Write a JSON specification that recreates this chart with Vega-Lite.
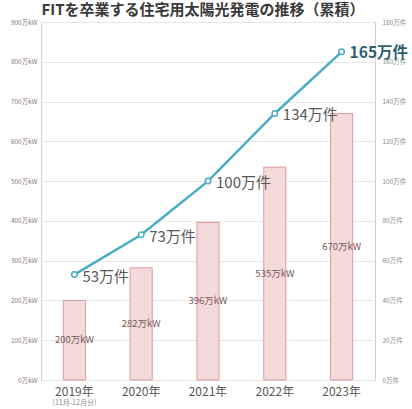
{
  "$schema": "https://vega.github.io/schema/vega-lite/v6.json",
  "width": 334,
  "height": 358,
  "autosize": {"type": "none"},
  "padding": {"left": 41, "top": 22, "right": 37, "bottom": 29},
  "background": "white",
  "title": {
    "text": "FITを卒業する住宅用太陽光発電の推移（累積）",
    "font": "Noto Sans CJK JP",
    "fontSize": 15,
    "fontWeight": "bold",
    "color": "#3a3a3a",
    "anchor": "middle",
    "dx": -5,
    "offset": 1
  },
  "config": {
    "font": "Noto Sans CJK JP",
    "view": {"stroke": "#d0d0d0", "strokeWidth": 1}
  },
  "data": {
    "values": [
      {"year": "2019年", "kw": 200, "count": 53, "kwLabel": "200万kW", "countLabel": "53万件"},
      {"year": "2020年", "kw": 282, "count": 73, "kwLabel": "282万kW", "countLabel": "73万件"},
      {"year": "2021年", "kw": 396, "count": 100, "kwLabel": "396万kW", "countLabel": "100万件"},
      {"year": "2022年", "kw": 535, "count": 134, "kwLabel": "535万kW", "countLabel": "134万件"},
      {"year": "2023年", "kw": 670, "count": 165, "kwLabel": "670万kW", "countLabel": "165万件"}
    ]
  },
  "encoding": {
    "x": {
      "field": "year",
      "type": "nominal",
      "sort": null,
      "scale": {"paddingInner": 0.67, "paddingOuter": 0.335},
      "axis": {
        "title": null,
        "labelAngle": 0,
        "labelFontSize": 12,
        "labelColor": "#595959",
        "domain": false,
        "ticks": false,
        "labelPadding": 6
      }
    }
  },
  "layer": [
    {
      "mark": {"type": "bar", "fill": "#f4dada", "stroke": "#dc9c9c", "strokeWidth": 1},
      "encoding": {
        "y": {
          "field": "kw",
          "type": "quantitative",
          "scale": {"domain": [0, 900]},
          "axis": {
            "title": null,
            "values": [0, 100, 200, 300, 400, 500, 600, 700, 800, 900],
            "labelExpr": "datum.value + '万kW'",
            "labelFontSize": 6.5,
            "labelColor": "#8a7a7a",
            "labelPadding": 4,
            "domain": false,
            "ticks": false,
            "grid": true,
            "gridColor": "#e6e6e6"
          }
        }
      }
    },
    {
      "mark": {"type": "line", "color": "#4bacc6", "strokeWidth": 2.5},
      "encoding": {
        "y": {
          "field": "count",
          "type": "quantitative",
          "scale": {"domain": [0, 180]},
          "axis": {
            "title": null,
            "orient": "right",
            "values": [0, 20, 40, 60, 80, 100, 120, 140, 160, 180],
            "labelExpr": "datum.value + '万件'",
            "labelFontSize": 6.5,
            "labelColor": "#8c8c8c",
            "labelPadding": 7,
            "domain": false,
            "ticks": false,
            "grid": false
          }
        }
      }
    },
    {
      "mark": {"type": "text", "fontSize": 9.5, "color": "#7b5757"},
      "encoding": {
        "y": {"field": "kw", "type": "quantitative", "scale": {"domain": [0, 1800]}, "axis": null},
        "text": {"field": "kwLabel", "type": "nominal"}
      }
    },
    {
      "mark": {
        "type": "point",
        "shape": "circle",
        "filled": true,
        "fill": "white",
        "stroke": "#4bacc6",
        "strokeWidth": 1.5,
        "size": 30,
        "opacity": 1
      },
      "encoding": {
        "y": {"field": "count", "type": "quantitative", "scale": {"domain": [0, 180]}, "axis": null}
      }
    },
    {
      "transform": [{"filter": "datum.year != '2023年'"}],
      "mark": {"type": "text", "align": "left", "baseline": "middle", "dx": 8, "dy": 2, "fontSize": 15, "color": "#595959"},
      "encoding": {
        "y": {"field": "count", "type": "quantitative", "scale": {"domain": [0, 180]}, "axis": null},
        "text": {"field": "countLabel", "type": "nominal"}
      }
    },
    {
      "transform": [{"filter": "datum.year == '2023年'"}],
      "mark": {"type": "text", "align": "left", "baseline": "middle", "dx": 8, "dy": 1, "fontSize": 15.5, "fontWeight": "bold", "color": "#2e5f6f"},
      "encoding": {
        "y": {"field": "count", "type": "quantitative", "scale": {"domain": [0, 180]}, "axis": null},
        "text": {"field": "countLabel", "type": "nominal"}
      }
    },
    {
      "data": {"values": [{"year": "2019年", "note": "(11月-12月分)"}]},
      "mark": {"type": "text", "baseline": "middle", "dy": 23, "fontSize": 7, "color": "#8c8c8c"},
      "encoding": {
        "y": {"datum": 0, "type": "quantitative", "scale": {"domain": [0, 900]}, "axis": null},
        "text": {"field": "note", "type": "nominal"}
      }
    }
  ],
  "resolve": {"scale": {"y": "independent"}}
}
